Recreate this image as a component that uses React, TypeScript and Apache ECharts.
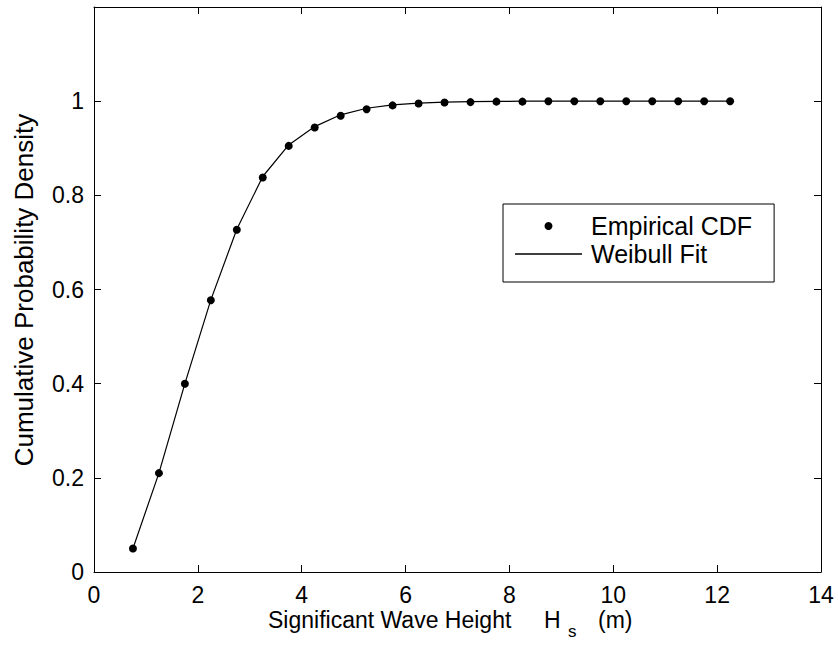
import React, { useEffect, useRef } from 'react';
import * as echarts from 'echarts';

const FONT = '"Liberation Sans", Arial, Helvetica, sans-serif';

// Significant wave height Hs (m)
const waveHeights = [
  0.75, 1.25, 1.75, 2.25, 2.75, 3.25, 3.75, 4.25, 4.75, 5.25, 5.75, 6.25,
  6.75, 7.25, 7.75, 8.25, 8.75, 9.25, 9.75, 10.25, 10.75, 11.25, 11.75, 12.25,
];
// Empirical CDF values (dots)
const empiricalCdf = [
  0.05, 0.21, 0.4, 0.577, 0.727, 0.838, 0.905, 0.944, 0.969, 0.983, 0.991, 0.995,
  0.997, 0.998, 0.999, 0.999, 1.0, 1.0, 1.0, 1.0, 1.0, 1.0, 1.0, 1.0,
];
// Weibull fit values (line)
const weibullFit = [
  0.05, 0.21, 0.4, 0.578, 0.728, 0.84, 0.907, 0.946, 0.971, 0.985, 0.992, 0.996,
  0.998, 0.999, 0.9995, 1.0, 1.0, 1.0, 1.0, 1.0, 1.0, 1.0, 1.0, 1.0,
];
const xRange = [0, 14];
const yRange = [0, 1.2];
const xTitle = 'Significant Wave Height';
const yTitle = 'Cumulative Probability Density';
const legendNames = ['Empirical CDF', 'Weibull Fit'];

export default function App() {
  const ref = useRef<HTMLDivElement>(null);
  useEffect(() => {
    document.body.style.margin = '0';
    const chart = echarts.init(ref.current!, null, { renderer: 'svg' });
    const axisCommon = {
      axisLine: { show: true, onZero: false, lineStyle: { color: '#000', width: 1 } },
      axisTick: { show: true, inside: true, length: 7, lineStyle: { color: '#000', width: 1 } },
      splitLine: { show: false },
    };
    const textStyle = (size: number, align: string) => ({
      fill: '#000', fontSize: size, fontFamily: FONT,
      align, verticalAlign: 'middle', textAlign: align, textVerticalAlign: 'middle',
    });
    chart.setOption({
      animation: false,
      backgroundColor: '#fff',
      grid: { left: 94, right: 17, top: 7, bottom: 82, containLabel: false },
      xAxis: [
        {
          type: 'value', min: xRange[0], max: xRange[1], interval: 2, position: 'bottom',
          ...axisCommon,
          axisLabel: { color: '#000', fontSize: 23, fontFamily: FONT, margin: 11 },
        },
        {
          type: 'value', min: xRange[0], max: xRange[1], interval: 2, position: 'top',
          ...axisCommon,
          axisLabel: { show: false },
        },
      ],
      yAxis: [
        {
          type: 'value', min: yRange[0], max: yRange[1], interval: 0.2, position: 'left',
          ...axisCommon,
          axisLabel: {
            color: '#000', fontSize: 23, fontFamily: FONT, margin: 10,
            formatter: (v: number) => (v > 1.05 ? '' : String(Math.round(v * 10) / 10)),
          },
        },
        {
          type: 'value', min: yRange[0], max: yRange[1], interval: 0.2, position: 'right',
          ...axisCommon,
          axisLabel: { show: false },
        },
      ],
      legend: {
        show: true,
        orient: 'vertical',
        left: 503,
        top: 204,
        data: [
          { name: legendNames[0], icon: 'circle' },
          { name: legendNames[1], icon: 'path://M0,0L100,0L100,2.2L0,2.2Z' },
        ],
        itemWidth: 67,
        itemHeight: 8,
        itemGap: 0,
        borderColor: '#000',
        borderWidth: 1,
        borderRadius: 0,
        backgroundColor: '#fff',
        padding: [8, 22, 14, 12],
        textStyle: { color: '#000', fontSize: 25, fontFamily: FONT, lineHeight: 28, padding: [0, 0, 0, 4] },
        selectedMode: false,
      },
      series: [
        {
          type: 'line',
          name: legendNames[1],
          xAxisIndex: 0,
          yAxisIndex: 0,
          data: waveHeights.map((x, i) => [x, weibullFit[i]]),
          showSymbol: false,
          symbol: 'none',
          lineStyle: { color: '#000', width: 1.2 },
          itemStyle: { color: '#000', opacity: 1 },
          z: 2,
        },
        {
          type: 'scatter',
          name: legendNames[0],
          xAxisIndex: 0,
          yAxisIndex: 0,
          data: waveHeights.map((x, i) => [x, empiricalCdf[i]]),
          symbol: 'circle',
          symbolSize: 8,
          itemStyle: { color: '#000', opacity: 1 },
          z: 3,
        },
      ],
      graphic: [
        {
          type: 'text', x: 24, y: 290, rotation: Math.PI / 2,
          style: { text: yTitle, ...textStyle(26, 'center') },
        },
        {
          type: 'text', x: 268, y: 620,
          style: { text: xTitle, ...textStyle(23, 'left') },
        },
        {
          type: 'text', x: 544, y: 620,
          style: { text: 'H', ...textStyle(23, 'left') },
        },
        {
          type: 'text', x: 568, y: 631,
          style: { text: 's', ...textStyle(17, 'left') },
        },
        {
          type: 'text', x: 598, y: 620,
          style: { text: '(m)', ...textStyle(23, 'left') },
        },
      ],
    });
    return () => chart.dispose();
  }, []);
  return <div ref={ref} style={{ width: 838, height: 654 }} />;
}
